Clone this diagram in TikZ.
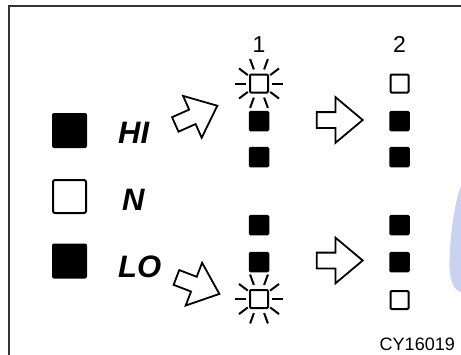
\documentclass[tikz,border=0pt]{standalone}
\usepackage{fontspec}
\setsansfont{Liberation Sans}
\usetikzlibrary{shapes.arrows, positioning, calc}
\definecolor{frameStroke}{HTML}{333333}
\definecolor{blobFill}{HTML}{C9D2F0}

\begin{document}
\begin{tikzpicture}[
    x=1pt, y=-1pt,
    font=\sffamily,
    % Lamp styles
    bigOn/.style={
        rectangle,
        rounded corners=2pt,
        fill=black,
        minimum size=35pt,
        inner sep=0pt
    },
    bigOff/.style={
        rectangle,
        rounded corners=2pt,
        draw=black,
        line width=2pt,
        fill=white,
        minimum size=33pt,
        inner sep=0pt
    },
    lampOn/.style={
        rectangle,
        rounded corners=1.5pt,
        fill=black,
        minimum size=20.5pt,
        inner sep=0pt
    },
    lampOff/.style={
        rectangle,
        rounded corners=1pt,
        draw=black,
        line width=2pt,
        fill=white,
        minimum size=18pt,
        inner sep=0pt
    },
    % Text styles
    modeText/.style={
        font=\sffamily\bfseries\itshape\fontsize{31}{31}\selectfont,
        inner sep=0pt,
        anchor=base west
    },
    stepNum/.style={
        font=\sffamily\fontsize{23}{23}\selectfont,
        inner sep=0pt,
        anchor=base
    },
    codeText/.style={
        font=\sffamily\fontsize{18}{18}\selectfont,
        inner sep=0pt,
        anchor=base east
    },
    % Arrow styles
    moveArrow/.style={
        single arrow,
        draw=black,
        line width=1.8pt,
        fill=white,
        minimum height=46pt,
        inner xsep=0pt,
        inner ysep=7pt,
        single arrow head extend=15pt,
        single arrow tip angle=80
    },
    ray/.style={
        draw=black,
        line width=2pt
    }
]

    % --- Canvas ---
    \useasboundingbox (0,0) rectangle (461,354);
    \fill[white] (0,0) rectangle (461,354);

    % Light blue shape at the right edge
    \fill[blobFill] (462,184) .. controls (455,198) and (450,235) .. (449.5,262)
        .. controls (449,282) and (455,292) .. (462,292) -- cycle;

    % Frame
    \draw[frameStroke, line width=1.5pt] (9,356) -- (9,6) -- (463,6);

    % --- Nodes ---

    % 1. Mode indicators
    \node[bigOn]  (hiLamp) at (69.5,130.5) {};
    \node[bigOff] (nLamp)  at (69.5,196.5) {};
    \node[bigOn]  (loLamp) at (69.5,261)   {};

    \node[modeText] (hiText) at (118,143) {HI};
    \node[modeText] (nText)  at (122,210) {N};
    \node[modeText] (loText) at (118,277) {LO};

    % 2. Step 1 column
    \node[stepNum] (stepOne) at (259,52) {1};
    \node[lampOff] (oneA) at (259,83.5) {};
    \node[lampOn]  (oneB) at (259,121)  {};
    \node[lampOn]  (oneC) at (259,157)  {};
    \node[lampOn]  (oneD) at (259,225)  {};
    \node[lampOn]  (oneE) at (259,262)  {};
    \node[lampOff] (oneF) at (259,299)  {};

    % 3. Step 2 column
    \node[stepNum] (stepTwo) at (399.5,52) {2};
    \node[lampOff] (twoA) at (399.5,83.5) {};
    \node[lampOn]  (twoB) at (399.5,121)  {};
    \node[lampOn]  (twoC) at (399.5,157)  {};
    \node[lampOn]  (twoD) at (399.5,225)  {};
    \node[lampOn]  (twoE) at (399.5,262)  {};
    \node[lampOff] (twoF) at (399.5,300)  {};

    % 4. Hollow arrows
    \node[moveArrow, rotate=24]  (hiArrow) at (192,117) {};
    \node[moveArrow, rotate=-21] (loArrow) at (193.5,284) {};
    \node[moveArrow] (upArrow)   at (335,120)   {};
    \node[moveArrow] (downArrow) at (335,260.5) {};

    % 5. Picture code
    \node[codeText] (code) at (455,350) {CY16019};

    % --- Flashing rays ---
    \foreach \lamp in {oneA, oneF}
        \foreach \a/\r in {0/13, 37/14, 70/15, 110/15, 143/14, 180/13, 217/14, 250/15, 290/15, 323/14}
            \draw[ray] ($(\lamp)+(\a:\r)$) -- ($(\lamp)+(\a:\r+11)$);

\end{tikzpicture}
\end{document}
